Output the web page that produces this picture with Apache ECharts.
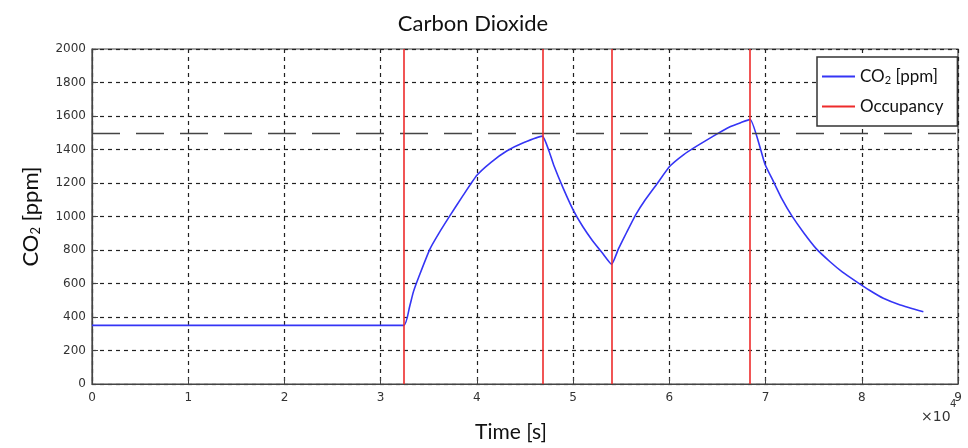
<!DOCTYPE html>
<html>
<head>
<meta charset="utf-8">
<script src="https://cdn.jsdelivr.net/npm/echarts@6/dist/echarts.min.js"></script>
<style>html,body{margin:0;padding:0;background:#fff;}#c{width:968px;height:448px;}</style>
</head>
<body>
<div id="c"></div>
<script>
var timeS = [32400,33000,33400,34000,35130,36000,37200,38500,40000,41500,43100,44830,46800,
  47500,48000,49000,50000,51000,52000,53000,54000,
  54700,55570,56500,57500,58690,60070,61500,62840,64570,66310,67500,68400,
  69940,70810,71700,72720,74000,75310,76700,78000,79470,80800,82240,84000,86400];
var co2Ppm = [350,460,550,645,807,895,1005,1120,1246,1325,1391,1440,1480,
  1390,1305,1165,1040,940,857,785,715,
  805,906,1010,1100,1193,1301,1370,1420,1480,1536,1562,1580,
  1312,1210,1105,1005,900,805,730,668,610,560,512,472,431];
var flatTime = [0, 32400];
var flatPpm = [350, 350];
var occupancyTimes = [32400, 46800, 54000, 68400];
var thresholdPpm = 1500;
var xTicks = [0,1,2,3,4,5,6,7,8,9];

var co2Data = [];
for (var i = 0; i < flatTime.length; i++) co2Data.push([flatTime[i], flatPpm[i]]);
for (var j = 1; j < timeS.length; j++) co2Data.push([timeS[j], co2Ppm[j]]);

var chart = echarts.init(document.getElementById('c'), null, {renderer: 'canvas'});
var tickFont = {fontFamily: 'DejaVu Sans', fontSize: 12, color: '#333'};
chart.setOption({
  animation: false,
  backgroundColor: '#fff',
  title: {
    text: 'Carbon Dioxide', left: 468, top: 8, textAlign: 'center',
    textStyle: {fontFamily: 'Lato', fontSize: 22, fontWeight: 'normal', color: '#111'}
  },
  grid: {left: 92, right: 10, top: 49, bottom: 62, show: true, borderColor: '#444', borderWidth: 1.2},
  legend: {
    data: [{name: 'CO2', icon: 'rect'}, {name: 'Occupancy', icon: 'rect'}],
    orient: 'vertical', left: 817, top: 57,
    backgroundColor: '#fff', borderColor: '#333', borderWidth: 1.5,
    padding: [11, 14, 11, 5], itemGap: 12, itemWidth: 33, itemHeight: 2,
    formatter: function (n) { return n === 'CO2' ? '{a|CO}{s|2}{a| [ppm]}' : '{a|Occupancy}'; },
    textStyle: {
      fontFamily: 'Lato', fontSize: 17, color: '#111',
      rich: {a: {fontFamily: 'Lato', fontSize: 17, color: '#111'}, s: {fontFamily: 'Lato', fontSize: 11, color: '#111', verticalAlign: 'bottom', padding: [8, 0, 0, 0]}}
    }
  },
  xAxis: {
    type: 'value', min: 0, max: 90000, interval: 10000,
    axisLine: {lineStyle: {color: '#444', width: 1.2}},
    axisTick: {inside: true, length: 6, lineStyle: {color: '#444'}},
    axisLabel: Object.assign({margin: 8, formatter: function (v) { return String(xTicks[Math.round(v / 10000)]); }}, tickFont),
    splitLine: {show: true, lineStyle: {color: '#222', type: [4, 4], width: 1.2}},
    name: 'Time [s]', nameLocation: 'middle', nameGap: 38,
    nameTextStyle: {fontFamily: 'Lato', fontSize: 21, color: '#111', padding: [0, 28, 0, 0]}
  },
  yAxis: {
    type: 'value', min: 0, max: 2000, interval: 200,
    axisLine: {show: true, lineStyle: {color: '#444', width: 1.2}},
    axisTick: {show: true, inside: true, length: 6, lineStyle: {color: '#444'}},
    axisLabel: Object.assign({margin: 6, formatter: function (v) { return String(v); }}, tickFont),
    splitLine: {show: true, lineStyle: {color: '#222', type: [4, 4], width: 1.2}},
    name: '{a|CO}{s|2}{a| [ppm]}', nameLocation: 'middle', nameGap: 50, nameRotate: 90,
    nameTextStyle: {
      rich: {a: {fontFamily: 'Lato', fontSize: 22, color: '#111'}, s: {fontFamily: 'Lato', fontSize: 13, color: '#111', verticalAlign: 'bottom', padding: [10, 0, 0, 0]}}
    }
  },
  graphic: [
    {type: 'text', left: 921, top: 410, style: {text: '×10', font: '14px "DejaVu Sans"', fill: '#333'}},
    {type: 'text', left: 950, top: 399, style: {text: '4', font: '10px "DejaVu Sans"', fill: '#333'}}
  ],
  series: [
    {
      name: 'Threshold', type: 'line', data: [], z: 1, silent: true,
      markLine: {symbol: 'none', silent: true, label: {show: false},
        lineStyle: {color: '#444', type: [28, 16], width: 1.3},
        data: [{yAxis: thresholdPpm}]}
    },
    {
      name: 'Occupancy', type: 'line', data: [], z: 2, symbol: 'none',
      lineStyle: {color: '#ee2b2b', width: 1.5}, itemStyle: {color: '#ee2b2b'},
      markLine: {symbol: 'none', silent: true, label: {show: false},
        lineStyle: {color: '#ee2b2b', type: 'solid', width: 1.6},
        data: occupancyTimes.map(function (t) { return {xAxis: t}; })}
    },
    {
      name: 'CO2', type: 'line', data: co2Data, z: 3, symbol: 'none', smooth: 0.15,
      lineStyle: {color: '#3535f5', width: 1.6}, itemStyle: {color: '#3535f5'}
    }
  ]
});
</script>
</body>
</html>
